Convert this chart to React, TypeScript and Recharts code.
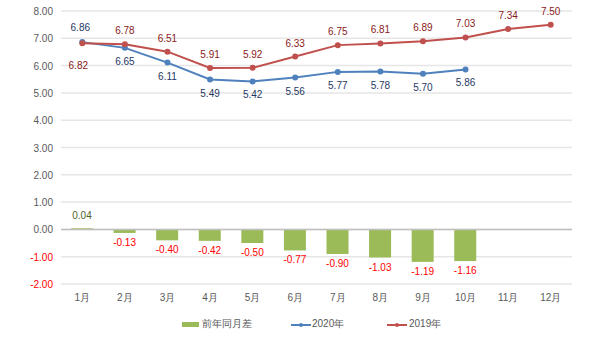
import React from 'react';
import { ComposedChart, Bar, Line, XAxis, YAxis, CartesianGrid, ReferenceLine, LabelList } from 'recharts';

const months = ['1月', '2月', '3月', '4月', '5月', '6月', '7月', '8月', '9月', '10月', '11月', '12月'];
const diff: (number | null)[] = [0.04, -0.13, -0.40, -0.42, -0.50, -0.77, -0.90, -1.03, -1.19, -1.16, null, null];
const y2020: (number | null)[] = [6.86, 6.65, 6.11, 5.49, 5.42, 5.56, 5.77, 5.78, 5.70, 5.86, null, null];
const y2019: number[] = [6.82, 6.78, 6.51, 5.91, 5.92, 6.33, 6.75, 6.81, 6.89, 7.03, 7.34, 7.50];
const yTicks = [-2, -1, 0, 1, 2, 3, 4, 5, 6, 7, 8];

const data = months.map((m, i) => ({ m, diff: diff[i], y2020: y2020[i], y2019: y2019[i] }));

const FONT = '"Liberation Sans", Arial, sans-serif';

const YTick = (props: any) => {
  const { x, y, payload } = props;
  const v = payload.value as number;
  return (
    <text x={x} y={y} dy={4} textAnchor="end" fontSize={10} fontFamily={FONT} fill={v < 0 ? '#FF0000' : '#595959'}>
      {v.toFixed(2)}
    </text>
  );
};

const XTick = (props: any) => {
  const { x, y, payload } = props;
  return (
    <text x={x} y={y} dy={8} textAnchor="middle" fontSize={10} fontFamily={FONT} fill="#595959">
      {payload.value}
    </text>
  );
};

const barLabel = (props: any) => {
  const { x, y, width, height, value } = props;
  if (value == null) return null;
  const cx = Number(x) + Number(width) / 2;
  const neg = value < 0;
  const top = Math.min(Number(y), Number(y) + Number(height));
  const bottom = Math.max(Number(y), Number(y) + Number(height));
  const yy = neg ? bottom + 13 : top - 9;
  return (
    <text x={cx} y={yy} textAnchor="middle" fontSize={10} fontFamily={FONT} fill={neg ? '#FF0000' : '#4F6228'}>
      {value.toFixed(2)}
    </text>
  );
};

const label2020 = (props: any) => {
  const { x, y, value, index } = props;
  if (value == null) return null;
  const above = index === 0;
  return (
    <text x={above ? x - 2 : x} y={above ? y - 11 : y + 17} textAnchor="middle" fontSize={10} fontFamily={FONT} fill="#1F3864">
      {value.toFixed(2)}
    </text>
  );
};

const label2019 = (props: any) => {
  const { x, y, value, index } = props;
  if (value == null) return null;
  const below = index === 0;
  return (
    <text x={below ? x - 4 : x} y={below ? y + 26 : y - 10} textAnchor="middle" fontSize={10} fontFamily={FONT} fill="#8B1A1A">
      {value.toFixed(2)}
    </text>
  );
};

export default function App() {
  return (
    <div style={{ position: 'absolute', left: 0, top: 0, width: 600, height: 338, background: '#fff' }}>
      <ComposedChart width={600} height={338} data={data} margin={{ top: 11, right: 28, left: 0, bottom: 24 }} barSize={22}>
        <CartesianGrid vertical={false} stroke="#E6E6E6" strokeWidth={1.5} />
        <XAxis dataKey="m" axisLine={false} tickLine={false} tickSize={0} tickMargin={9} height={30} tick={<XTick />} interval={0} />
        <YAxis domain={[-2, 8]} ticks={yTicks} axisLine={false} tickLine={false} tickSize={0} tickMargin={8} width={61} tick={<YTick />} />
        <ReferenceLine y={0} stroke="#BFBFBF" strokeWidth={1.5} />
        <Bar dataKey="diff" fill="#9BBB59" isAnimationActive={false}>
          <LabelList dataKey="diff" content={barLabel} />
        </Bar>
        <Line dataKey="y2020" stroke="#4F81BD" strokeWidth={2} dot={{ r: 2, fill: '#4F81BD', stroke: '#4F81BD' }} isAnimationActive={false} connectNulls={false}>
          <LabelList dataKey="y2020" content={label2020} />
        </Line>
        <Line dataKey="y2019" stroke="#C0504D" strokeWidth={2} dot={{ r: 2, fill: '#C0504D', stroke: '#C0504D' }} isAnimationActive={false}>
          <LabelList dataKey="y2019" content={label2019} />
        </Line>
      </ComposedChart>
      <div style={{ position: 'absolute', left: 0, top: 317, width: 600, height: 16, fontFamily: FONT, fontSize: 10, color: '#595959' }}>
        <div style={{ position: 'absolute', left: 182, top: 5, width: 17, height: 5, background: '#9BBB59' }} />
        <div style={{ position: 'absolute', left: 202, top: 1, lineHeight: '12px' }}>前年同月差</div>
        <svg style={{ position: 'absolute', left: 291, top: 3 }} width={20} height={10}>
          <line x1={0} y1={5} x2={20} y2={5} stroke="#4F81BD" strokeWidth={2} />
          <circle cx={10} cy={5} r={2} fill="#4F81BD" />
        </svg>
        <div style={{ position: 'absolute', left: 312, top: 1, lineHeight: '12px' }}>2020年</div>
        <svg style={{ position: 'absolute', left: 387, top: 3 }} width={20} height={10}>
          <line x1={0} y1={5} x2={20} y2={5} stroke="#C0504D" strokeWidth={2} />
          <circle cx={10} cy={5} r={2} fill="#C0504D" />
        </svg>
        <div style={{ position: 'absolute', left: 409, top: 1, lineHeight: '12px' }}>2019年</div>
      </div>
    </div>
  );
}
